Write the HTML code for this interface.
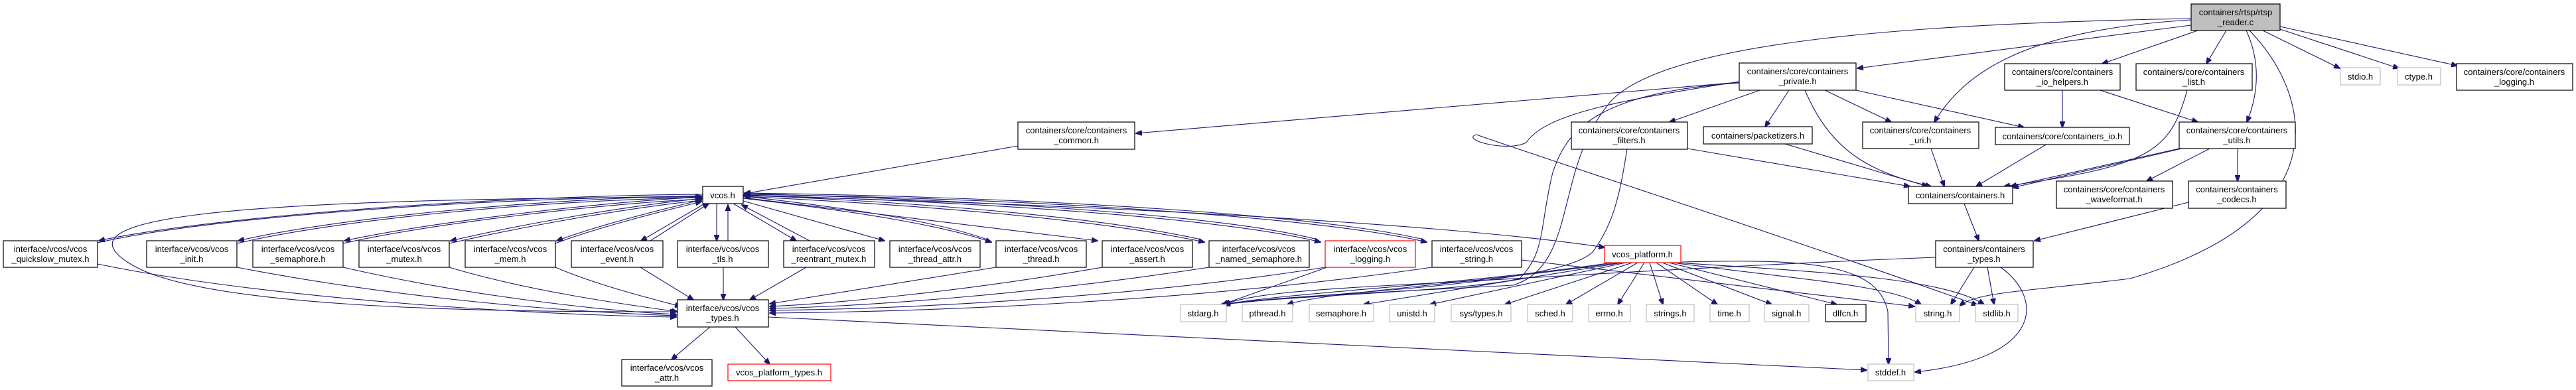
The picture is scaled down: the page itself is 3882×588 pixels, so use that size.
<!DOCTYPE html>
<html><head><meta charset="utf-8"><style>
html,body{margin:0;padding:0;background:#fff;width:3882px;height:588px;overflow:hidden}
svg{display:block}
text{font-family:"Liberation Sans",sans-serif;font-size:13px;fill:#000;text-anchor:middle}
.n{fill:#fff;stroke:#000;stroke-width:1.2}
.g{fill:#fff;stroke:#bfbfbf;stroke-width:1.2}
.r{fill:#fff;stroke:#ff0000;stroke-width:1.2}
.e path{fill:none;stroke:#191970;stroke-width:1.1}
</style></head><body>
<svg width="3882" height="588" viewBox="0 0 3882 588" xmlns="http://www.w3.org/2000/svg">
<defs><marker id="a" markerWidth="10" markerHeight="8" refX="9" refY="4" orient="auto" markerUnits="userSpaceOnUse"><path d="M0,0 L10,4 L0,8 z" fill="#191970" stroke="#191970"/></marker></defs>
<g class="e" marker-end="url(#a)">
<!-- rtsp edges -->
<path d="M3302,38 L2799,103" marker-end="url(#a)"/>
<path d="M3302,28 C2900,35 2520,60 2430,150 C2340,250 2380,400 2280,430 C2100,440 1950,445 1840,459" marker-end="url(#a)"/>
<path d="M3302,30 C3050,45 2960,110 2915,184" marker-end="url(#a)"/>
<path d="M3312,46 L3168,96" marker-end="url(#a)"/>
<path d="M3355,46 L3325,96" marker-end="url(#a)"/>
<path d="M3385,46 C3410,100 3400,150 3386,184" marker-end="url(#a)"/>
<path d="M3390,46 C3490,150 3520,330 3210,420 C3050,440 2980,440 2953,461" marker-end="url(#a)"/>
<path d="M3410,46 L3526,103" marker-end="url(#a)"/>
<path d="M3436,44 L3615,103" marker-end="url(#a)"/>
<path d="M3436,40 L3703,99" marker-end="url(#a)"/>
<!-- private -->
<path d="M2621,124 L1712,201" marker-end="url(#a)"/>
<path d="M2652,136 L2516,184" marker-end="url(#a)"/>
<path d="M2696,136 L2660,191" marker-end="url(#a)"/>
<path d="M2720,136 C2760,230 2820,260 2910,281" marker-end="url(#a)"/>
<path d="M2750,136 L2850,184" marker-end="url(#a)"/>
<path d="M2797,136 L3050,192" marker-end="url(#a)"/>
<path d="M2621,123 C2450,150 2330,170 2300,215 C2270,230 2200,210 2225,203 C2300,230 2700,360 2980,460" marker-end="url(#a)"/>
<path d="M2621,125 C2400,140 2360,200 2340,260 C2320,340 2330,380 2290,420 C2200,440 1950,445 1842,459" marker-end="url(#a)"/>
<!-- filters / packetizers / uri / io -->
<path d="M2543,224 L2878,281" marker-end="url(#a)"/>
<path d="M2452,225 C2440,300 2430,340 2400,380 C2350,430 2000,440 1845,459" marker-end="url(#a)"/>
<path d="M2690,217 L2905,281" marker-end="url(#a)"/>
<path d="M2910,224 L2930,281" marker-end="url(#a)"/>
<path d="M3085,217 L2978,281" marker-end="url(#a)"/>
<path d="M3108,136 L3108,192" marker-end="url(#a)"/>
<path d="M3165,136 L3312,184" marker-end="url(#a)"/>
<path d="M3296,136 C3270,230 3240,250 3020,281" marker-end="url(#a)"/>
<path d="M3284,224 L3030,281" marker-end="url(#a)"/>
<path d="M3288,224 L3033,283" marker-end="url(#a)"/>
<path d="M3330,224 L3235,273" marker-end="url(#a)"/>
<path d="M3372,224 L3372,273" marker-end="url(#a)"/>
<path d="M3298,305 L3066,363" marker-end="url(#a)"/>
<path d="M2960,307 L2982,363" marker-end="url(#a)"/>
<path d="M2975,403 L2940,459" marker-end="url(#a)"/>
<path d="M2995,403 L3005,459" marker-end="url(#a)"/>
<path d="M3015,403 C3080,450 3080,540 2886,561" marker-end="url(#a)"/>
<path d="M2917,388 C2600,400 2300,420 2100,430 C1950,438 1880,445 1845,459" marker-end="url(#a)"/>
<!-- common -->
<path d="M1534,220 L1122,292" marker-end="url(#a)"/>
<!-- vcos.h <-> left nodes -->
<path d="M1059,293 C700,296 300,330 149,363" marker-end="url(#a)"/>
<path d="M147,366 C300,330 700,298 1057,296" marker-end="url(#a)"/>
<path d="M1059,295 C800,300 500,330 359,363" marker-end="url(#a)"/>
<path d="M357,367 C500,333 800,302 1057,298" marker-end="url(#a)"/>
<path d="M1059,297 C900,305 650,335 519,363" marker-end="url(#a)"/>
<path d="M517,367 C650,337 900,308 1057,300" marker-end="url(#a)"/>
<path d="M1059,299 C950,310 800,335 679,363" marker-end="url(#a)"/>
<path d="M677,367 C800,339 950,313 1057,302" marker-end="url(#a)"/>
<path d="M1059,301 C1000,315 900,340 839,363" marker-end="url(#a)"/>
<path d="M837,367 C900,343 1000,318 1057,304" marker-end="url(#a)"/>
<path d="M1062,307 L966,363" marker-end="url(#a)"/>
<path d="M980,363 L1068,307" marker-end="url(#a)"/>
<path d="M1059,297 C300,300 80,330 200,400 C320,470 800,470 1019,470" marker-end="url(#a)"/>
<!-- vcos.h <-> right nodes -->
<path d="M1080,307 L1080,363" marker-end="url(#a)"/>
<path d="M1097,363 L1097,309" marker-end="url(#a)"/>
<path d="M1105,307 L1200,363" marker-end="url(#a)"/>
<path d="M1220,363 L1118,309" marker-end="url(#a)"/>
<path d="M1120,303 L1333,363" marker-end="url(#a)"/>
<path d="M1120,299 C1300,320 1420,340 1494,365" marker-end="url(#a)"/>
<path d="M1490,362 C1420,336 1300,316 1122,296" marker-end="url(#a)"/>
<path d="M1120,298 L1654,363" marker-end="url(#a)"/>
<path d="M1120,296 C1400,310 1650,330 1815,365" marker-end="url(#a)"/>
<path d="M1810,361 C1650,326 1400,306 1122,294" marker-end="url(#a)"/>
<path d="M1120,294 C1500,305 1850,330 1990,365" marker-end="url(#a)"/>
<path d="M1985,361 C1850,326 1500,302 1122,292" marker-end="url(#a)"/>
<path d="M1120,293 C1600,300 2000,330 2150,365" marker-end="url(#a)"/>
<path d="M2145,361 C2000,326 1600,298 1122,291" marker-end="url(#a)"/>
<path d="M1120,295 C1700,310 2200,340 2418,373" marker-end="url(#a)"/>
<!-- row -> vcos_types -->
<path d="M147,398 C400,450 800,475 1019,478" marker-end="url(#a)"/>
<path d="M357,403 C600,450 850,470 1019,476" marker-end="url(#a)"/>
<path d="M517,403 C700,445 900,468 1019,474" marker-end="url(#a)"/>
<path d="M677,403 C800,440 950,460 1021,470" marker-end="url(#a)"/>
<path d="M837,403 C900,430 980,450 1026,462" marker-end="url(#a)"/>
<path d="M965,403 L1045,452" marker-end="url(#a)"/>
<path d="M1090,403 L1090,452" marker-end="url(#a)"/>
<path d="M1215,403 L1130,452" marker-end="url(#a)"/>
<path d="M1501,403 L1160,458" marker-end="url(#a)"/>
<path d="M1661,403 C1450,440 1250,458 1160,462" marker-end="url(#a)"/>
<path d="M1822,403 C1550,445 1300,462 1160,465" marker-end="url(#a)"/>
<path d="M1997,403 C1700,450 1350,466 1160,468" marker-end="url(#a)"/>
<path d="M2158,403 C1800,455 1400,470 1160,472" marker-end="url(#a)"/>
<path d="M2000,403 L1842,459" marker-end="url(#a)"/>
<path d="M2293,392 L2885,462" marker-end="url(#a)"/>
<!-- vcos_types -->
<path d="M1070,493 L1012,542" marker-end="url(#a)"/>
<path d="M1108,493 L1160,549" marker-end="url(#a)"/>
<path d="M1158,478 L2813,558" marker-end="url(#a)"/>
<!-- vcos_platform -->
<path d="M2430,396 C2200,430 1950,440 1845,459" marker-end="url(#a)"/>
<path d="M2440,396 C2200,430 2000,440 1940,459" marker-end="url(#a)"/>
<path d="M2445,396 L2055,459" marker-end="url(#a)"/>
<path d="M2450,396 L2155,459" marker-end="url(#a)"/>
<path d="M2460,396 L2268,459" marker-end="url(#a)"/>
<path d="M2468,396 L2360,459" marker-end="url(#a)"/>
<path d="M2478,396 L2438,459" marker-end="url(#a)"/>
<path d="M2486,396 L2506,459" marker-end="url(#a)"/>
<path d="M2496,396 L2588,459" marker-end="url(#a)"/>
<path d="M2505,396 L2670,459" marker-end="url(#a)"/>
<path d="M2515,396 L2768,459" marker-end="url(#a)"/>
<path d="M2520,396 C2700,420 2850,430 2895,459" marker-end="url(#a)"/>
<path d="M2525,396 C2750,410 2930,420 2990,459" marker-end="url(#a)"/>
<path d="M2500,396 C2700,390 2830,390 2845,470 L2846,549" marker-end="url(#a)"/>
</g>
<!-- nodes -->
<rect x="3302" y="6" width="134" height="40" fill="#bfbfbf" stroke="#000" stroke-width="1.2"/><text x="3369" y="23">containers/rtsp/rtsp</text><text x="3369" y="38">_reader.c</text>
<rect class="n" x="2621" y="95" width="176" height="41"/><text x="2709" y="112">containers/core/containers</text><text x="2709" y="127">_private.h</text>
<rect class="n" x="3021" y="96" width="174" height="40"/><text x="3108" y="113">containers/core/containers</text><text x="3108" y="128">_io_helpers.h</text>
<rect class="n" x="3219" y="96" width="175" height="40"/><text x="3306" y="113">containers/core/containers</text><text x="3306" y="128">_list.h</text>
<rect class="g" x="3527" y="102" width="60" height="26"/><text x="3557" y="120">stdio.h</text>
<rect class="g" x="3613" y="102" width="65" height="26"/><text x="3645" y="120">ctype.h</text>
<rect class="n" x="3702" y="96" width="175" height="40"/><text x="3789" y="113">containers/core/containers</text><text x="3789" y="128">_logging.h</text>
<rect class="n" x="1534" y="184" width="176" height="41"/><text x="1622" y="201">containers/core/containers</text><text x="1622" y="216">_common.h</text>
<rect class="n" x="2368" y="184" width="175" height="41"/><text x="2455" y="201">containers/core/containers</text><text x="2455" y="216">_filters.h</text>
<rect class="n" x="2567" y="191" width="164" height="26"/><text x="2649" y="209">containers/packetizers.h</text>
<rect class="n" x="2807" y="184" width="175" height="40"/><text x="2894" y="201">containers/core/containers</text><text x="2894" y="216">_uri.h</text>
<rect class="n" x="3007" y="192" width="202" height="26"/><text x="3108" y="210">containers/core/containers_io.h</text>
<rect class="n" x="3284" y="184" width="175" height="40"/><text x="3371" y="201">containers/core/containers</text><text x="3371" y="216">_utils.h</text>
<rect class="n" x="1059" y="281" width="61" height="26"/><text x="1089" y="299">vcos.h</text>
<rect class="n" x="2876" y="281" width="157" height="26"/><text x="2954" y="299">containers/containers.h</text>
<rect class="n" x="3099" y="273" width="175" height="41"/><text x="3186" y="290">containers/core/containers</text><text x="3186" y="305">_waveformat.h</text>
<rect class="n" x="3298" y="273" width="147" height="41"/><text x="3371" y="290">containers/containers</text><text x="3371" y="305">_codecs.h</text>
<rect class="n" x="5" y="363" width="142" height="40"/><text x="76" y="380">interface/vcos/vcos</text><text x="76" y="395">_quickslow_mutex.h</text>
<rect class="n" x="221" y="363" width="136" height="40"/><text x="289" y="380">interface/vcos/vcos</text><text x="289" y="395">_init.h</text>
<rect class="n" x="381" y="363" width="136" height="40"/><text x="449" y="380">interface/vcos/vcos</text><text x="449" y="395">_semaphore.h</text>
<rect class="n" x="541" y="363" width="136" height="40"/><text x="609" y="380">interface/vcos/vcos</text><text x="609" y="395">_mutex.h</text>
<rect class="n" x="701" y="363" width="136" height="40"/><text x="769" y="380">interface/vcos/vcos</text><text x="769" y="395">_mem.h</text>
<rect class="n" x="861" y="363" width="138" height="40"/><text x="930" y="380">interface/vcos/vcos</text><text x="930" y="395">_event.h</text>
<rect class="n" x="1021" y="363" width="137" height="40"/><text x="1089" y="380">interface/vcos/vcos</text><text x="1089" y="395">_tls.h</text>
<rect class="n" x="1181" y="363" width="137" height="40"/><text x="1249" y="380">interface/vcos/vcos</text><text x="1249" y="395">_reentrant_mutex.h</text>
<rect class="n" x="1341" y="363" width="136" height="40"/><text x="1409" y="380">interface/vcos/vcos</text><text x="1409" y="395">_thread_attr.h</text>
<rect class="n" x="1501" y="363" width="136" height="40"/><text x="1569" y="380">interface/vcos/vcos</text><text x="1569" y="395">_thread.h</text>
<rect class="n" x="1661" y="363" width="136" height="40"/><text x="1729" y="380">interface/vcos/vcos</text><text x="1729" y="395">_assert.h</text>
<rect class="n" x="1822" y="363" width="151" height="40"/><text x="1897" y="380">interface/vcos/vcos</text><text x="1897" y="395">_named_semaphore.h</text>
<rect class="r" x="1997" y="363" width="136" height="40"/><text x="2065" y="380">interface/vcos/vcos</text><text x="2065" y="395">_logging.h</text>
<rect class="n" x="2158" y="363" width="135" height="40"/><text x="2225" y="380">interface/vcos/vcos</text><text x="2225" y="395">_string.h</text>
<rect class="n" x="2917" y="363" width="147" height="40"/><text x="2990" y="380">containers/containers</text><text x="2990" y="395">_types.h</text>
<rect class="r" x="2418" y="370" width="115" height="26"/><text x="2475" y="388">vcos_platform.h</text>
<rect class="n" x="1021" y="452" width="137" height="41"/><text x="1089" y="469">interface/vcos/vcos</text><text x="1089" y="484">_types.h</text>
<rect class="g" x="1779" y="459" width="69" height="26"/><text x="1813" y="477">stdarg.h</text>
<rect class="g" x="1872" y="459" width="76" height="26"/><text x="1910" y="477">pthread.h</text>
<rect class="g" x="1973" y="459" width="97" height="26"/><text x="2021" y="477">semaphore.h</text>
<rect class="g" x="2094" y="459" width="68" height="26"/><text x="2128" y="477">unistd.h</text>
<rect class="g" x="2187" y="459" width="90" height="26"/><text x="2232" y="477">sys/types.h</text>
<rect class="g" x="2302" y="459" width="68" height="26"/><text x="2336" y="477">sched.h</text>
<rect class="g" x="2394" y="459" width="63" height="26"/><text x="2425" y="477">errno.h</text>
<rect class="g" x="2481" y="459" width="72" height="26"/><text x="2517" y="477">strings.h</text>
<rect class="g" x="2577" y="459" width="59" height="26"/><text x="2606" y="477">time.h</text>
<rect class="g" x="2659" y="459" width="67" height="26"/><text x="2692" y="477">signal.h</text>
<rect class="n" x="2751" y="459" width="61" height="26"/><text x="2781" y="477">dlfcn.h</text>
<rect class="g" x="2887" y="459" width="66" height="26"/><text x="2920" y="477">string.h</text>
<rect class="g" x="2977" y="459" width="64" height="26"/><text x="3009" y="477">stdlib.h</text>
<rect class="n" x="937" y="542" width="136" height="40"/><text x="1005" y="559">interface/vcos/vcos</text><text x="1005" y="574">_attr.h</text>
<rect class="r" x="1097" y="549" width="155" height="25"/><text x="1174" y="566">vcos_platform_types.h</text>
<rect class="g" x="2815" y="549" width="69" height="25"/><text x="2849" y="566">stddef.h</text>
</svg>
</body></html>
